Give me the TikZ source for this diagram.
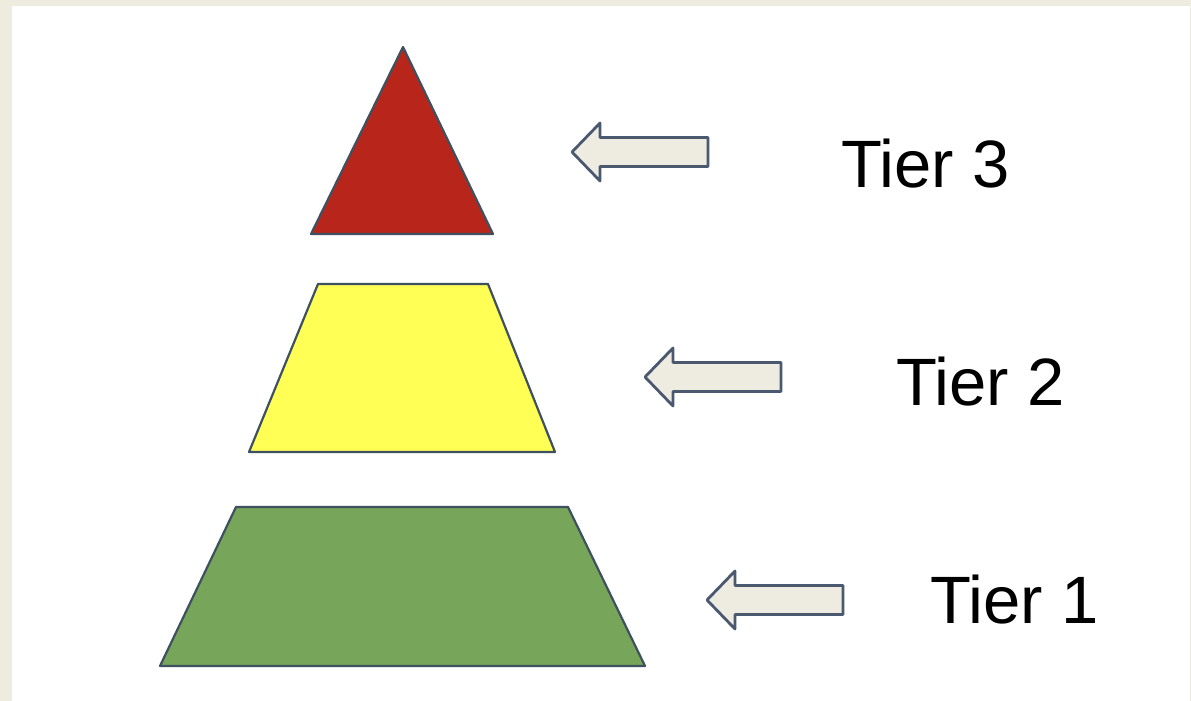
\documentclass[tikz,border=0pt]{standalone}
\usepackage{fontspec}
\setmainfont{Liberation Sans}
\definecolor{pagebg}{HTML}{EEEBDF}
\definecolor{tierred}{HTML}{B8261B}
\definecolor{tieryellow}{HTML}{FFFF55}
\definecolor{tiergreen}{HTML}{77A65A}
\definecolor{tierline}{HTML}{3F5060}
\definecolor{arrowfill}{HTML}{EEECE1}
\definecolor{arrowline}{HTML}{4A5870}
\tikzset{
  tierblock/.style={draw=tierline, line width=2.2pt, line join=round},
  pointer/.style={draw=arrowline, fill=arrowfill, line width=2.8pt, line join=round},
  tierlabel/.style={inner sep=0pt, anchor=base west, font=\fontsize{67}{78}\selectfont}
}
% block arrow pointing left, tip at (#1,#2)
\newcommand{\tierpointer}[2]{%
  \draw[pointer, shift={(#1,#2)}] (0,0) -- (28,-29) -- (28,-14.5) -- (136,-14.5)
    -- (136,14.5) -- (28,14.5) -- (28,29) -- cycle;}
\begin{document}
\begin{tikzpicture}[x=1pt, y=-1pt]
                \fill[pagebg] (0,0) rectangle (1191,701);
                \fill[white] (12,6) rectangle (1190,701);
                \useasboundingbox (0,0) rectangle (1191,701);
                % the pyramid
                \draw[tierblock, fill=tierred] (403,47) -- (493,234) -- (311,234) -- cycle;
                \draw[tierblock, fill=tieryellow] (318,284) -- (488,284) -- (555,452) -- (249,452) -- cycle;
                \draw[tierblock, fill=tiergreen] (236,507) -- (568,507) -- (645,666) -- (160,666) -- cycle;
                % pointers
                \tierpointer{572}{152}
                \tierpointer{645}{377}
                \tierpointer{707}{600}
                % labels
                \node[tierlabel] (tier3) at (841,187) {Tier 3};
                \node[tierlabel] (tier2) at (896,405) {Tier 2};
                \node[tierlabel] (tier1) at (930,623) {Tier 1};
            \end{tikzpicture}
\end{document}
